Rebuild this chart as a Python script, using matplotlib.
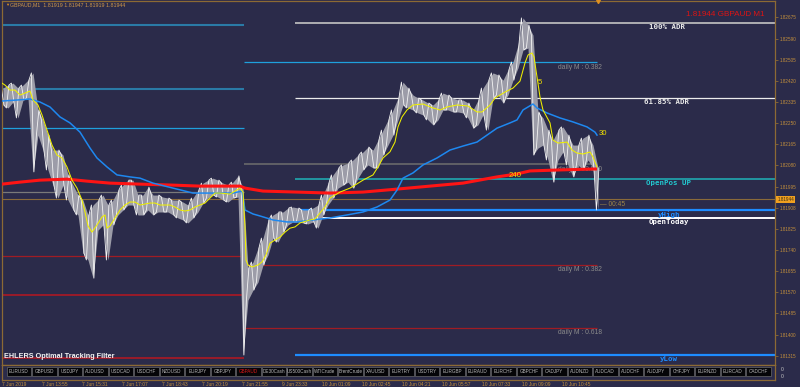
import numpy as np
import matplotlib
matplotlib.use("Agg")
import matplotlib.pyplot as plt
from matplotlib.patches import Rectangle
import matplotlib.transforms as mtrans

# ------------------------------------------------------------------ data
symbol = "GBPAUD"
timeframe = "M1"
header_ohlc = ["1.81919", "1.81947", "1.81919", "1.81944"]
last_price = 1.81944
timer_text = "00:45"

# price bars, grouped (each group ~ 12 one-minute bars): highs / lows
bar_hi = [1.82391, 1.82403, 1.82411, 1.82391, 1.82403, 1.82423, 1.82452, 1.82303, 1.82263, 1.82202,
          1.82142, 1.82142, 1.82122, 1.82042, 1.82001, 1.81961, 1.81941, 1.81881, 1.81921, 1.81941,
          1.81961, 1.81921, 1.81941, 1.81981, 1.82001, 1.82021, 1.82021, 1.81961, 1.81961, 1.81993,
          1.81961, 1.81961, 1.81953, 1.81949, 1.81941, 1.81941, 1.81933, 1.81921, 1.81949, 1.81981,
          1.82009, 1.82021, 1.82029, 1.82021, 1.82009, 1.82001, 1.82013, 1.82038, 1.81989, 1.81668,
          1.81692, 1.81748, 1.81788, 1.81861, 1.81881, 1.81893, 1.81893, 1.81909, 1.81913, 1.81909,
          1.81901, 1.81901, 1.81909, 1.81921, 1.81961, 1.82009, 1.82042, 1.82070, 1.82082, 1.82090,
          1.82102, 1.82122, 1.82134, 1.82154, 1.82142, 1.82182, 1.82222, 1.82263, 1.82303, 1.82351,
          1.82415, 1.82391, 1.82363, 1.82351, 1.82343, 1.82331, 1.82323, 1.82343, 1.82371, 1.82363,
          1.82351, 1.82343, 1.82343, 1.82331, 1.82303, 1.82343, 1.82391, 1.82423, 1.82452, 1.82444,
          1.82423, 1.82464, 1.82496, 1.82564, 1.82673, 1.82645, 1.82604, 1.82295, 1.82271, 1.82222,
          1.82182, 1.82222, 1.82235, 1.82202, 1.82162, 1.82162, 1.82190, 1.82202, 1.82162, 1.82070]
bar_lo = [1.82323, 1.82311, 1.82335, 1.82271, 1.82343, 1.82351, 1.82054, 1.82202, 1.82142, 1.82062,
          1.82001, 1.81949, 1.82001, 1.81941, 1.81901, 1.81881, 1.81728, 1.81700, 1.81627, 1.81820,
          1.81841, 1.81700, 1.81841, 1.81881, 1.81901, 1.81921, 1.81921, 1.81881, 1.81881, 1.81901,
          1.81881, 1.81893, 1.81893, 1.81893, 1.81881, 1.81869, 1.81861, 1.81849, 1.81869, 1.81893,
          1.81929, 1.81949, 1.81961, 1.81953, 1.81941, 1.81933, 1.81949, 1.81953, 1.81318, 1.81539,
          1.81579, 1.81611, 1.81680, 1.81720, 1.81788, 1.81772, 1.81812, 1.81841, 1.81853, 1.81853,
          1.81849, 1.81845, 1.81853, 1.81828, 1.81881, 1.81921, 1.81949, 1.81989, 1.82001, 1.82013,
          1.81989, 1.82029, 1.82062, 1.82082, 1.82070, 1.82070, 1.82122, 1.82162, 1.82202, 1.82263,
          1.82323, 1.82311, 1.82303, 1.82291, 1.82283, 1.82263, 1.82243, 1.82263, 1.82303, 1.82303,
          1.82295, 1.82295, 1.82291, 1.82271, 1.82230, 1.82243, 1.82283, 1.82222, 1.82351, 1.82363,
          1.82331, 1.82363, 1.82423, 1.82472, 1.82544, 1.82552, 1.82122, 1.82150, 1.82162, 1.82102,
          1.82013, 1.82102, 1.82134, 1.82082, 1.82034, 1.82082, 1.82062, 1.82102, 1.82070, 1.81901]
bar_col = 3 + 5 * np.arange(len(bar_hi))      # chart column of each bar group

# Ehlers optimal tracking filter ("5"), MA 30, MA 240  (chart column, price)
fast_x = [2, 5, 10, 15, 20, 25, 30, 33, 38, 42, 47, 52, 57, 62, 67, 72, 77, 82, 85, 88,
          92, 97, 102, 105, 107, 110, 115, 120, 125, 130, 135, 140, 145, 150, 155, 160, 170, 175, 180, 185,
          190, 195, 200, 205, 210, 215, 220, 230, 235, 240, 243, 245, 246, 248, 252, 258, 262, 266, 270, 275,
          280, 285, 290, 295, 300, 310, 315, 320, 325, 330, 340, 350, 355, 363, 373, 378, 383, 390, 395, 398,
          402, 407, 413, 423, 433, 440, 447, 457, 468, 477, 482, 490, 495, 505, 513, 520, 525, 528, 532, 534,
          537, 540, 543, 550, 553, 558, 567, 572, 577, 583, 590, 593, 597]
fast_y = [1.82411, 1.82403, 1.82383, 1.82383, 1.82363, 1.82371, 1.82379, 1.82343, 1.82323, 1.82283,
          1.82222, 1.82162, 1.82122, 1.82110, 1.82074, 1.82021, 1.81989, 1.81941, 1.81893, 1.81837,
          1.81812, 1.81841, 1.81873, 1.81881, 1.81828, 1.81837, 1.81869, 1.81901, 1.81921, 1.81933,
          1.81933, 1.81921, 1.81925, 1.81929, 1.81929, 1.81921, 1.81921, 1.81913, 1.81901, 1.81897,
          1.81901, 1.81913, 1.81921, 1.81929, 1.81949, 1.81969, 1.81969, 1.81965, 1.81977, 1.81989,
          1.81973, 1.81833, 1.81700, 1.81680, 1.81672, 1.81680, 1.81692, 1.81720, 1.81768, 1.81780,
          1.81792, 1.81812, 1.81828, 1.81833, 1.81849, 1.81861, 1.81865, 1.81889, 1.81913, 1.81949,
          1.81973, 1.81989, 1.82001, 1.82021, 1.82042, 1.82074, 1.82110, 1.82135, 1.82174, 1.82235,
          1.82275, 1.82303, 1.82323, 1.82327, 1.82311, 1.82303, 1.82315, 1.82323, 1.82319, 1.82295,
          1.82295, 1.82323, 1.82351, 1.82375, 1.82391, 1.82419, 1.82492, 1.82524, 1.82532, 1.82516,
          1.82436, 1.82355, 1.82303, 1.82251, 1.82182, 1.82170, 1.82174, 1.82142, 1.82130, 1.82126,
          1.82134, 1.82114, 1.82074]

ma30_x = [2, 17, 30, 40, 50, 60, 70, 80, 85, 90, 97, 107, 117, 130, 140, 153, 173, 193, 213, 233,
          242, 245, 253, 260, 273, 287, 297, 313, 330, 347, 363, 377, 390, 397, 403, 413, 423, 437, 450, 463,
          477, 487, 497, 510, 517, 523, 528, 533, 537, 547, 560, 573, 587, 595, 597]
ma30_y = [1.82339, 1.82343, 1.82347, 1.82335, 1.82315, 1.82275, 1.82251, 1.82214, 1.82182, 1.82150,
          1.82110, 1.82074, 1.82042, 1.82034, 1.82029, 1.82009, 1.81989, 1.81969, 1.81969, 1.81969,
          1.81977, 1.81901, 1.81885, 1.81877, 1.81861, 1.81853, 1.81853, 1.81861, 1.81869, 1.81881,
          1.81893, 1.81913, 1.81941, 1.81981, 1.82029, 1.82050, 1.82082, 1.82110, 1.82142, 1.82158,
          1.82174, 1.82202, 1.82230, 1.82251, 1.82263, 1.82303, 1.82315, 1.82327, 1.82311, 1.82291,
          1.82271, 1.82255, 1.82235, 1.82214, 1.82202]

ma240_x = [2, 20, 40, 67, 87, 110, 140, 173, 200, 240, 245, 263, 297, 330, 363, 397, 430, 463, 497, 517,
           530, 560, 597]
ma240_y = [1.82005, 1.82013, 1.82021, 1.82025, 1.82017, 1.82009, 1.82005, 1.82001, 1.81997, 1.81997,
           1.81989, 1.81977, 1.81973, 1.81969, 1.81973, 1.81985, 1.81997, 1.82009, 1.82034, 1.82046,
           1.82058, 1.82062, 1.82066]

# level lines
adr_100 = 1.82654
adr_6185 = 1.82353
open_pos_up = 1.82027
y_high = 1.81901
open_today = 1.81869
y_low = 1.81318
prev_day_levels = [1.82645, 1.82387, 1.82230, 1.81973, 1.81717, 1.81559, 1.81306]
daily_m_levels = [1.82747, 1.82496, 1.82086, 1.81681, 1.81428]
daily_m_names = ["0.618", "0.382", "0.500", "0.382", "0.618"]

day_break_col = 244
session_col = 295
last_col = 597

price_ticks = [1.82675, 1.82590, 1.82505, 1.82420, 1.82335, 1.82250, 1.82165, 1.82080, 1.81995,
               1.81908, 1.81825, 1.81740, 1.81655, 1.81570, 1.81485, 1.81400, 1.81315]
time_labels = ["7 Jun 2019", "7 Jun 13:55", "7 Jun 15:31", "7 Jun 17:07", "7 Jun 18:43", "7 Jun 20:19",
               "7 Jun 21:55", "9 Jun 23:33", "10 Jun 01:09", "10 Jun 02:45", "10 Jun 04:21",
               "10 Jun 05:57", "10 Jun 07:33", "10 Jun 09:09", "10 Jun 10:45"]
time_cols = [2 + 40 * i for i in range(len(time_labels))]

buttons = ["EURUSD", "GBPUSD", "USDJPY", "AUDUSD", "USDCAD", "USDCHF", "NZDUSD", "EURJPY", "GBPJPY",
           "GBPAUD", "DE30Cash", "US500Cash", "WTICrude", "BrentCrude", "XAUUSD", "EURTRY", "USDTRY",
           "EURGBP", "EURAUD", "EURCHF", "GBPCHF", "CADJPY", "AUDNZD", "AUDCAD", "AUDCHF", "AUDJPY",
           "CHFJPY", "EURNZD", "EURCAD", "CADCHF"]

# ------------------------------------------------------------------ style
BG = "#2b2b4a"
FRAME = "#8c6a34"
AXTXT = "#c4903c"
SANS = ["Liberation Sans", "DejaVu Sans"]
MONO = ["DejaVu Sans Mono"]
plt.rcParams["font.family"] = SANS

W, H = 800, 387
fig = plt.figure(figsize=(W / 100, H / 100), dpi=100)
fig.patch.set_facecolor(BG)

ax = fig.add_axes([2 / W, (H - 365) / H, 773 / W, 364 / H])
ax.set_facecolor(BG)
ax.set_xlim(2, 775)
ax.set_ylim(1.81278, 1.82741)
for s in ax.spines.values():
    s.set_color(FRAME)
    s.set_linewidth(0.9)
ax.set_xticks([])
ax.yaxis.tick_right()
ax.set_yticks(price_ticks)
ax.set_yticklabels([f"{v:.5f}" for v in price_ticks])
ax.tick_params(axis="y", colors=FRAME, length=2, width=0.6, pad=1.5, labelsize=3.3, labelcolor=AXTXT)

# previous-day levels (left part)
prev_styles = [("#2a7aa6", 1.5), ("#2a7aa6", 1.5), ("#1fa0dc", 0.9), ("#7a7a7a", 0.9),
               ("#a01c24", 0.9), ("#9a1b2a", 1.4), ("#9a1b2a", 1.4)]
for lvl, (c, lw) in zip(prev_day_levels, prev_styles):
    ax.hlines(lvl, 2, day_break_col, color=c, lw=lw, zorder=2)

# daily M levels of current day
dm_styles = [("#808080", 1.0), ("#1fa0dc", 0.9), ("#6e6e6e", 1.1), ("#a01c24", 0.9), ("#a01c24", 0.9)]
for lvl, name, (c, lw) in zip(daily_m_levels, daily_m_names, dm_styles):
    ax.hlines(lvl, day_break_col, last_col, color=c, lw=lw, zorder=2)
    ax.annotate(f"daily M : {name}", (580, lvl), xytext=(0, -1.2), textcoords="offset points",
                ha="center", va="top", fontsize=4.9, color="#8a8a8a", zorder=3)

# ADR / open levels
ax.hlines(adr_100, session_col, 775, color="#c4c4c4", lw=1.2, zorder=2)
ax.hlines(adr_6185, session_col, 775, color="#ececec", lw=0.9, zorder=2)
ax.hlines(open_pos_up, session_col, 775, color="#1fa8b0", lw=1.2, zorder=2)
ax.hlines(y_high, session_col, 775, color="#1e8cff", lw=1.6, zorder=2)
ax.hlines(open_today, session_col, 775, color="#ffffff", lw=1.4, zorder=2)
ax.hlines(y_low, session_col, 775, color="#1e8cff", lw=1.6, zorder=2)
ax.hlines(last_price, 2, 775, color="#8a6a3a", lw=0.8, zorder=2)

lbl_kw = dict(xytext=(0, -1.0), textcoords="offset points", ha="center", va="top",
              fontsize=5.3, fontweight="bold", family=MONO, zorder=6)
ax.annotate("100% ADR", (667, adr_100), color="#e8e8e8", **lbl_kw)
ax.annotate("61.85% ADR", (667, adr_6185), color="#e8e8e8", **lbl_kw)
ax.annotate("OpenPos UP", (669, open_pos_up), color="#22c8d0", **lbl_kw)
ax.annotate("yHigh", (669, y_high), color="#1e8cff", **lbl_kw)
ax.annotate("OpenToday", (669, open_today), color="#ffffff", **lbl_kw)
ax.annotate("yLow", (669, y_low), color="#1e8cff", **lbl_kw)

# price bars: dense M1 range band with a scribble of highs and lows
ax.fill_between(bar_col, bar_lo, bar_hi, color="#9c9ca8", lw=0, zorder=4)
zx, zy = [], []
for i, (c, hi, lo) in enumerate(zip(bar_col, bar_hi, bar_lo)):
    pair = [hi, lo] if i % 2 == 0 else [lo, hi]
    zx += [c - 1.6, c + 0.9]
    zy += pair
ax.plot(zx, zy, color="#f4f4f4", lw=0.6, zorder=5)

# indicators
ax.plot(ma240_x, ma240_y, color="#ff1414", lw=2.2, zorder=6, solid_capstyle="butt")
ax.plot(ma30_x, ma30_y, color="#1e88f0", lw=1.1, zorder=6)
ax.plot(fast_x, fast_y, color="#f0f000", lw=0.75, zorder=7)
ax.text(538, 1.82415, "5", color="#f0e000", fontsize=5.6, va="center", ha="left", zorder=8)
ax.text(599, 1.82210, "30", color="#f0e000", fontsize=5.6, va="center", ha="left", zorder=8)
ax.text(509, 1.82038, "240", color="#f0e000", fontsize=5.6, va="center", ha="left", zorder=8)

# timer next to last bar
ax.text(600, 1.81925, "\u2014 " + timer_text, color="#a08848", fontsize=4.8, va="center", ha="left",
        zorder=8)

# last price box on price axis
bt = mtrans.blended_transform_factory(ax.transAxes, ax.transData)
ax.text(1.003, last_price, f"{last_price:.5f}", transform=bt, fontsize=3.3, color="#3a2a10",
        va="center", ha="left", clip_on=False, zorder=9,
        bbox=dict(boxstyle="square,pad=0.25", fc="#f0a020", ec="none"))

# chart shift marker
ax.plot([598], [1.82741], marker="v", color="#e09020", ms=3, clip_on=False, zorder=9)

# texts
fig.text(5 / W, 1 - 5 / H, "\u25bc", color="#e09020", fontsize=3, va="center", ha="left")
fig.text(10 / W, 1 - 5 / H, f"{symbol},{timeframe}  " + " ".join(header_ohlc),
         color="#d09848", fontsize=3.8, va="center", ha="left")
fig.text(686 / W, 1 - 14 / H, f"{last_price:.5f} {symbol} {timeframe}",
         color="#dc1414", fontsize=5.9, va="center", ha="left")
fig.text(4 / W, 1 - 357 / H, "EHLERS Optimal Tracking Filter", color="#f4f4f4", fontsize=5.2,
         fontweight="bold", va="center", ha="left", zorder=10)

# sub window with symbol buttons and time axis
ax2 = fig.add_axes([2 / W, (H - 380) / H, 773 / W, 15 / H])
ax2.set_facecolor(BG)
ax2.set_xlim(2, 775)
ax2.set_ylim(380, 365)
for s in ax2.spines.values():
    s.set_color(FRAME)
    s.set_linewidth(0.9)
ax2.yaxis.tick_right()
ax2.set_yticks([368.5, 376.0])
ax2.set_yticklabels(["0", "0"])
ax2.tick_params(axis="y", length=0, pad=4, labelsize=3.6, labelcolor="#c8c8c8")
ax2.set_xticks(time_cols)
ax2.set_xticklabels(time_labels, ha="left")
ax2.tick_params(axis="x", colors=FRAME, length=1.0, width=0.6, pad=0.2, labelsize=3.5,
                labelcolor=AXTXT)

bw, step, bx0 = 24.3, 25.5, 6.7
for i, name in enumerate(buttons):
    x0 = bx0 + step * i
    ax2.add_patch(Rectangle((x0, 367.0), bw, 8.8, facecolor="#050508", edgecolor="#6a6a6a", lw=0.5))
    ax2.text(x0 + bw / 2, 371.4, name, ha="center", va="center", fontsize=3.3,
             color="#e01818" if name == symbol else "#b8b8b8", clip_on=True)

fig.savefig("out.png", dpi=100, facecolor=BG)
